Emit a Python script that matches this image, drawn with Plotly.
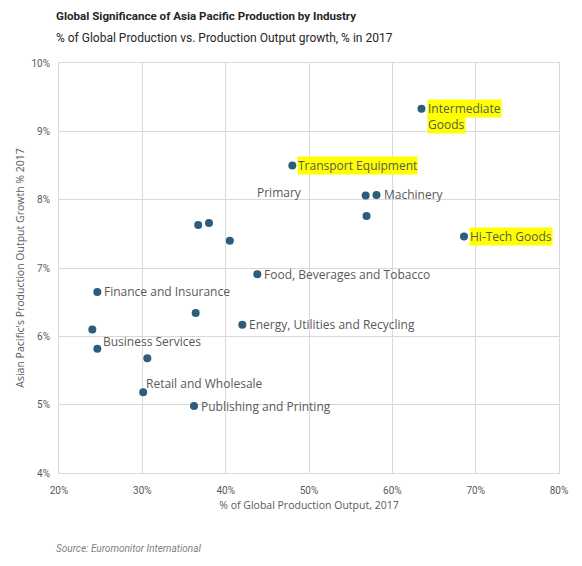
import plotly.graph_objects as go

# --- data ---
share_global = [63.5, 48.0, 56.8, 58.1, 56.9, 68.6, 36.7, 38.0, 40.5, 43.8,
                24.6, 36.4, 42.0, 24.0, 24.6, 30.6, 30.1, 36.2]
growth_2017 = [9.33, 8.50, 8.06, 8.07, 7.76, 7.46, 7.63, 7.66, 7.40, 6.91,
               6.65, 6.34, 6.17, 6.10, 5.82, 5.68, 5.18, 4.98]
labels = ["Intermediate<br>Goods", "Transport Equipment", "Primary", "Machinery", "",
          "Hi-Tech Goods", "", "", "", "Food, Beverages and Tobacco",
          "Finance and Insurance", "", "Energy, Utilities and Recycling", "",
          "Business Services", "", "Retail and Wholesale", "Publishing and Printing"]
highlighted = ["Intermediate<br>Goods", "Transport Equipment", "Hi-Tech Goods"]

x_ticks = [20, 30, 40, 50, 60, 70, 80]
y_ticks = [4, 5, 6, 7, 8, 9, 10]

# label placement (pixels, relative to the dot)
label_shift = {
    "Primary": (-62, 3, "right"),
    "Business Services": (4, 7, "left"),
    "Retail and Wholesale": (1, 9, "left"),
}

LABEL_FONT = "Open Sans"
TEXT_GREY = "#595959"
DOT = "#2c5d7c"
GRID = "#d9d9d9"

fig = go.Figure()
fig.add_trace(go.Scatter(x=share_global, y=growth_2017, mode="markers",
                         marker=dict(color=DOT, size=8), hoverinfo="x+y",
                         showlegend=False))

annotations = []
for xv, yv, lab in zip(share_global, growth_2017, labels):
    if not lab:
        continue
    dx, dy, anchor = label_shift.get(lab, (5, 0, "left"))
    if lab in highlighted:
        lines = lab.split("<br>")
        for i, line in enumerate(lines):
            annotations.append(dict(
                x=xv, y=yv, xref="x", yref="y", text=line, showarrow=False,
                xanchor="left", yanchor="middle", xshift=dx, yshift=dy - 15.5 * i,
                bgcolor="#ffff00", borderpad=0,
                font=dict(family=LABEL_FONT, size=12, color=TEXT_GREY)))
    else:
        annotations.append(dict(
            x=xv, y=yv, xref="x", yref="y", text=lab, showarrow=False,
            xanchor=anchor, yanchor="middle", xshift=dx, yshift=dy,
            font=dict(family=LABEL_FONT, size=12, color=TEXT_GREY)))

# titles and source (pixel positions in the window)
annotations += [
    dict(x=48, y=16, xref="paper", yref="paper", text="<b>Global Significance of Asia Pacific Production by Industry</b>",
         showarrow=False, xanchor="left", yanchor="middle",
         font=dict(family="Roboto", size=11.6, color="#262626")),
    dict(x=48, y=38, xref="paper", yref="paper", text="% of Global Production vs. Production Output growth, % in 2017",
         showarrow=False, xanchor="left", yanchor="middle",
         font=dict(family="Roboto", size=12, color="#262626")),
    dict(x=48, y=549, xref="paper", yref="paper", text="<i>Source: Euromonitor International</i>",
         showarrow=False, xanchor="left", yanchor="middle",
         font=dict(family="Roboto", size=10, color="#7f7f7f")),
]

# page body has an 8px margin, so the figure starts at (8, 8)
OFF = 8
W, H = 582 - OFF, 566 - OFF
ML, MR, MT, MB = 52.7 - OFF, 22.7, 63.4 - OFF, 92.7
pw, ph = W - ML - MR, H - MT - MB
for a in annotations:
    if a["xref"] == "paper":
        a["x"] = (a["x"] - OFF - ML) / pw
        a["y"] = 1 - (a["y"] - OFF - MT) / ph

fig.update_xaxes(range=[20, 80], tickvals=x_ticks, ticktext=[f"{v}%" for v in x_ticks],
                 showgrid=True, gridcolor=GRID, gridwidth=1, showline=True, linecolor=GRID,
                 mirror=True, zeroline=False, ticks="", ticklabelstandoff=8,
                 tickfont=dict(family="Roboto", size=10, color=TEXT_GREY),
                 title=dict(text="% of Global Production Output, 2017", standoff=6,
                            font=dict(family=LABEL_FONT, size=10.5, color=TEXT_GREY)))
fig.update_yaxes(range=[4, 10], tickvals=y_ticks, ticktext=[f"{v}%" for v in y_ticks],
                 showgrid=True, gridcolor=GRID, gridwidth=1, showline=True, linecolor=GRID,
                 mirror=True, zeroline=False, ticks="", ticklabelstandoff=6,
                 tickfont=dict(family="Roboto", size=10, color=TEXT_GREY),
                 title=dict(text="Asian Pacific's Production Output Growth % 2017", standoff=4,
                            font=dict(family=LABEL_FONT, size=10.5, color=TEXT_GREY)))

fig.update_layout(width=W, height=H, autosize=False,
                  margin=dict(l=ML, r=MR, t=MT, b=MB),
                  plot_bgcolor="white", paper_bgcolor="white",
                  annotations=annotations)

fig.write_html("out.html")
